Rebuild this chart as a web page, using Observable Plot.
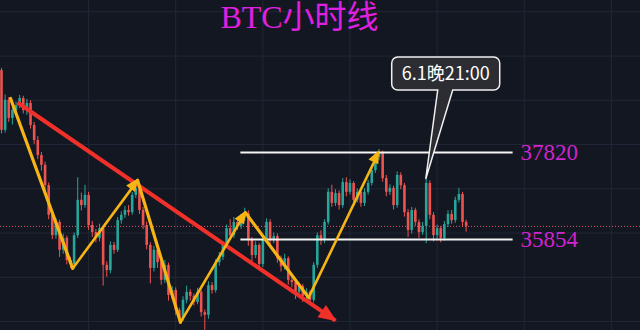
<!DOCTYPE html>
<html>
<head>
<meta charset="utf-8">
<script src="https://cdn.jsdelivr.net/npm/d3@7"></script>
<script src="https://cdn.jsdelivr.net/npm/@observablehq/plot@0.6"></script>
<style>
  html, body { margin: 0; padding: 0; background: #131722; }
  #chart { width: 640px; height: 330px; overflow: hidden; }
</style>
</head>
<body>
<div id="chart"></div>
<script>
// BTC hourly candles, hour index 0 = 28 May 00:00
const opens = [39670,38320,39000,38590,38770,38880,39040,38770,38930,38430,
  38090,37750,37530,37070,36400,35940,36240,35610,35880,35380,
  35290,35940,36740,36620,36850,36170,36010,35880,36100,35270,
  35150,35720,35610,36280,36400,36510,36460,36850,37010,36510,
  36170,35720,35200,35610,35330,34930,35270,34590,34700,34250,
  34070,34480,34660,34570,34430,34660,34200,34140,34810,34700,
  35330,35450,35720,36100,35940,36240,36150,36330,36440,35830,
  35490,35720,35290,35830,36240,35830,35920,35420,35240,35420,
  34930,34880,34660,34790,34570,34660,34480,35270,35940,35830,
  36240,36920,36670,36890,36620,37140,36920,37120,36740,36920,
  36670,36920,37120,37410,37710,37820,37230,36920,37010,36620,
  37300,37070,36460,36060,36510,36240,36010,36150,37120,36400,
  35940,36100,35880,36190,36420,36280,36740,36870,36240];
const closes = [38320,39000,38590,38770,38880,39040,38770,38930,38430,38090,
  37750,37530,37070,36400,35940,36240,35610,35880,35380,35290,
  35940,36740,36620,36850,36170,36010,35880,36100,35270,35150,
  35720,35610,36280,36400,36510,36460,36850,37010,36510,36170,
  35720,35200,35610,35330,34930,35270,34590,34700,34250,34070,
  34480,34660,34570,34430,34660,34200,34140,34810,34700,35330,
  35450,35720,36100,35940,36240,36150,36330,36440,35830,35490,
  35720,35290,35830,36240,35830,35920,35420,35240,35420,34930,
  34880,34660,34790,34570,34660,34480,35270,35940,35830,36240,
  36920,36670,36890,36620,37140,36920,37120,36740,36920,36670,
  36920,37120,37410,37710,37820,37230,36920,37010,36620,37300,
  37070,36460,36060,36510,36240,36010,36150,37120,36400,35940,
  36100,35880,36190,36420,36280,36740,36870,36240,36150];
const highs = [39720,39120,39060,38900,38960,39110,39090,39020,38990,38500,
  38180,37820,37600,37130,36480,36330,36290,35970,35930,35450,
  36000,37250,36900,37080,36920,36260,36080,36200,36150,35350,
  35800,35790,36350,36480,36600,36620,36920,37120,37060,36580,
  36250,35780,35700,35660,35400,35380,35320,34790,34760,34300,
  34560,34800,34720,34620,34750,34700,34260,34900,34880,35400,
  35560,35780,36180,36300,36350,36300,36420,36560,36500,35900,
  35800,35760,35900,36320,36300,36000,35980,35480,35520,35460,
  35000,34920,34870,34840,34740,34700,35330,36000,36050,36300,
  37000,37080,36980,36950,37230,37250,37200,37160,37000,36990,
  37000,37190,37480,37760,37890,37850,37300,37090,37060,37380,
  37360,37120,36530,36580,36560,36300,36240,37210,37180,36460,
  36180,36150,36260,36500,36510,36810,37010,36920,36290];
const lows = [38240,38260,38500,38440,38700,38810,38690,38660,38350,38000,
  37660,37400,36950,36300,35850,35860,35450,35520,35280,35200,
  35190,35880,36500,36560,36060,35900,35780,35800,34800,35000,
  35080,35520,35560,36200,36330,36380,36400,36780,36420,36080,
  35620,34850,35120,35200,34820,34860,34460,34500,34140,33970,
  34000,34400,34460,34350,34380,34100,33800,34050,34620,34640,
  35250,35380,35660,35860,35880,36060,36080,36260,35700,35320,
  35420,35180,35220,35760,35740,35760,35320,35120,35160,34820,
  34760,34500,34580,34430,34500,34360,34420,35200,35720,35760,
  36180,36580,36600,36520,36560,36820,36860,36640,36680,36580,
  36600,36860,37060,37350,37640,37150,36820,36850,36520,36560,
  36980,36360,35900,35980,36150,35880,35950,35760,36300,35800,
  35860,35780,35820,36120,36200,36220,36680,36140,36020];

// faint chart grid: midnight of each day, every 1000 USD
const dayStarts = [24, 48, 72, 96, 120, 144, 168];
const priceGrid = [34000, 35000, 36000, 37000, 38000, 39000, 40000, 41000];

// hand-drawn wave: pivots (hour index, price)
const waveHour = [2.5, 19.6, 37.5, 49.3, 67.2, 84.6, 103.9];
const wavePrice = [39040, 35200, 37190, 33980, 36460, 34540, 37820];

// falling trend line
const trendHour = [4.4, 92.0];
const trendPrice = [38950, 34020];

// range box levels
const levels = [37820, 35854];
const levelLabels = ["37820", "35854"];
const levelFrom = 65.8, levelTo = 140.8;

const title = "BTC小时线";
const calloutHour = 117;
const calloutText = "6.1晚21:00";

const GREEN = "#26a69a", RED = "#ef5350", YELLOW = "#f7b515", TREND = "#f2302a";

const candles = opens.map((o, i) => ({i, o, h: highs[i], l: lows[i], c: closes[i]}));
const lastClose = closes[closes.length - 1];

const downLegs = [], upLegs = [];
for (let k = 0; k < waveHour.length - 1; k++) {
  const seg = {x1: waveHour[k], y1: wavePrice[k], x2: waveHour[k + 1], y2: wavePrice[k + 1]};
  (wavePrice[k + 1] > wavePrice[k] ? upLegs : downLegs).push(seg);
}
const trendSeg = [{x1: trendHour[0], y1: trendPrice[0], x2: trendHour[1], y2: trendPrice[1]}];
const rangeLines = levels.map(v => ({x1: levelFrom, x2: levelTo, y: v}));
const labelRows = levels.map((v, k) => ({x: levelTo + 2.2, y: v, t: levelLabels[k]}));

const chart = Plot.plot({
  width: 640,
  height: 330,
  margin: 0,
  style: {background: "#131722", overflow: "visible"},
  x: {domain: [-0.275, 176.03], axis: null},
  y: {domain: [33797, 41255], axis: null},
  marks: [
    Plot.ruleX(dayStarts, {stroke: "#222737", strokeWidth: 1}),
    Plot.ruleY(priceGrid, {stroke: "#222737", strokeWidth: 1}),
    // last price line
    Plot.ruleY([lastClose], {stroke: "#e0566c", strokeWidth: 1, strokeDasharray: "1,2"}),
    // candles
    Plot.ruleX(candles, {x: "i", y1: "l", y2: "h", stroke: d => d.c >= d.o ? GREEN : RED, strokeWidth: 1}),
    Plot.ruleX(candles, {x: "i", y1: "o", y2: "c", stroke: d => d.c >= d.o ? GREEN : RED, strokeWidth: 2.6}),
    // range lines
    Plot.link(rangeLines, {x1: "x1", x2: "x2", y1: "y", y2: "y", stroke: "#f4f4f4", strokeWidth: 2}),
    Plot.text(labelRows, {x: "x", y: "y", text: "t", fill: "#d024d0", fontSize: 23,
      fontFamily: "'Liberation Serif', 'DejaVu Serif', serif", textAnchor: "start", lineAnchor: "middle"}),
    // falling trend line
    Plot.link(trendSeg, {x1: "x1", y1: "y1", x2: "x2", y2: "y2", stroke: TREND, strokeWidth: 4}),
    // wave legs
    Plot.link(downLegs, {x1: "x1", y1: "y1", x2: "x2", y2: "y2", stroke: YELLOW, strokeWidth: 3.2, strokeLinecap: "round"}),
    Plot.link(upLegs, {x1: "x1", y1: "y1", x2: "x2", y2: "y2", stroke: YELLOW, strokeWidth: 2.6}),
    // title
    Plot.text([title], {frameAnchor: "top", dx: -21, dy: 5, lineAnchor: "top", fill: "#e020e0",
      fontSize: 32, fontFamily: "'Liberation Serif', 'Noto Sans CJK SC', serif"})
  ]
});

document.getElementById("chart").appendChild(chart);

const sx = chart.scale("x"), sy = chart.scale("y");
const g = d3.select(chart).append("g");

// solid arrow heads at the end of each directed segment
function head(seg, len, wid, color) {
  const x1 = sx.apply(seg.x1), y1 = sy.apply(seg.y1), x2 = sx.apply(seg.x2), y2 = sy.apply(seg.y2);
  const d = Math.hypot(x2 - x1, y2 - y1), ux = (x2 - x1) / d, uy = (y2 - y1) / d;
  const tx = x2 + ux * 2, ty = y2 + uy * 2;
  const bx = tx - ux * len, by = ty - uy * len;
  const pts = [[tx, ty], [bx - uy * wid / 2, by + ux * wid / 2], [bx + uy * wid / 2, by - ux * wid / 2]];
  g.append("path").attr("d", "M" + pts.join("L") + "Z").attr("fill", color);
}
upLegs.forEach(s => head(s, 13, 11, YELLOW));
trendSeg.forEach(s => head(s, 18, 15, TREND));

// callout pointing at the 21:00 candle
const tx = sx.apply(calloutHour), ty = sy.apply(highs[calloutHour]);
const L = tx - 34, R = tx + 74, T = ty - 122, B = ty - 89, r = 6;
const b1 = tx + 12, b2 = tx + 27;
const path = `M${L + r},${T}H${R - r}A${r},${r} 0 0 1 ${R},${T + r}V${B - r}A${r},${r} 0 0 1 ${R - r},${B}` +
  `H${b2}L${tx},${ty}L${b1},${B}H${L + r}A${r},${r} 0 0 1 ${L},${B - r}V${T + r}A${r},${r} 0 0 1 ${L + r},${T}Z`;
g.append("path").attr("d", path).attr("fill", "#2b2d33").attr("stroke", "#f0f0f0").attr("stroke-width", 1.5);
g.append("text").attr("x", (L + R) / 2).attr("y", (T + B) / 2).attr("dy", "0.35em")
  .attr("text-anchor", "middle").attr("fill", "#ffffff").attr("font-size", 18)
  .attr("font-family", "'Noto Sans CJK SC', 'DejaVu Sans', sans-serif").text(calloutText);
</script>
</body>
</html>
